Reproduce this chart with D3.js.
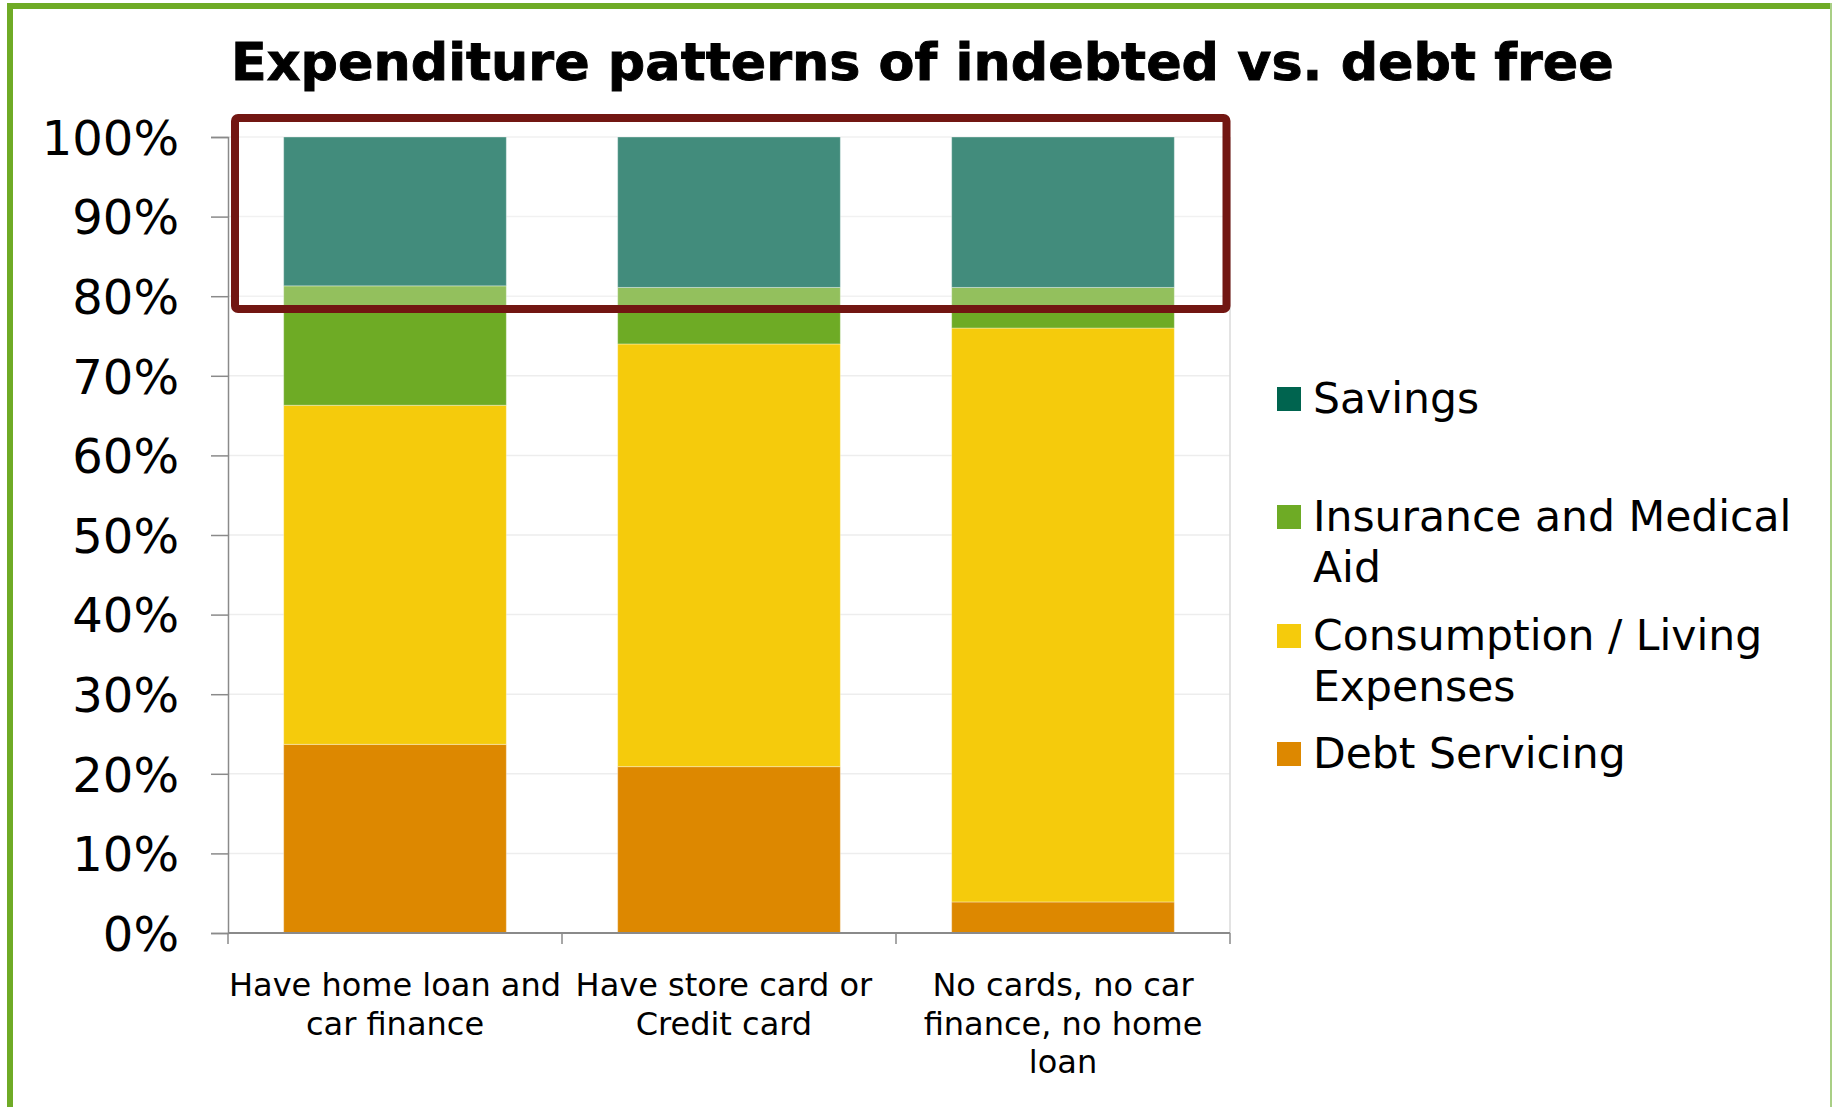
<!DOCTYPE html>
<html>
<head>
<meta charset="utf-8">
<script src="https://cdn.jsdelivr.net/npm/d3@7"></script>
<style>
  html, body { margin: 0; padding: 0; background: #ffffff; }
  svg { display: block; }
  text { font-family: "DejaVu Sans", Verdana, sans-serif; fill: #000; white-space: pre; }
</style>
</head>
<body>
<svg id="chart" width="1832" height="1107"></svg>
<script>
// Household groups (x categories), each label split into its display lines
const categories = ["home", "cards", "none"];
const categoryLines = [
  ["Have home loan and", "car finance"],
  ["Have store card or ", "Credit card "],
  ["No cards, no car", "finance, no home", "loan"]
];

// Share of income per spending type, in percent, per group
const debtServicing = [23.7, 20.9, 3.9];
const consumption   = [42.6, 53.1, 72.1];
const insurance     = [15.0, 7.1, 5.1];
const savings       = [18.7, 18.9, 18.9];

// Series, bottom of the stack first
const seriesKeys   = ["debt", "consumption", "insurance", "savings"];
const seriesNames  = ["Debt Servicing", "Consumption / Living Expenses", "Insurance and Medical Aid", "Savings"];
const seriesColors = ["#dd8800", "#f5cb0c", "#6eab25", "#00644f"];

// Legend entries, top to bottom, with their wrapped lines
const legendOrder = ["savings", "insurance", "consumption", "debt"];
const legendLines = {
  savings: ["Savings"],
  insurance: ["Insurance and Medical", "Aid"],
  consumption: ["Consumption / Living", "Expenses"],
  debt: ["Debt Servicing"]
};

const yTicks = [0, 10, 20, 30, 40, 50, 60, 70, 80, 90, 100];
const titleText = "Expenditure patterns of indebted vs. debt free";

const rows = categories.map((c, i) => ({
  cat: c,
  debt: debtServicing[i],
  consumption: consumption[i],
  insurance: insurance[i],
  savings: savings[i]
}));

const svg = d3.select("#chart");

// Plot frame
const plot = { left: 228, right: 1230, top: 137, bottom: 933 };

const x = d3.scaleBand()
  .domain(categories)
  .range([plot.left, plot.right])
  .paddingInner(1 / 3)
  .paddingOuter(1 / 6);

const y = d3.scaleLinear().domain([0, 100]).range([plot.bottom, plot.top]);
const color = d3.scaleOrdinal().domain(seriesKeys).range(seriesColors);

// Outer green card border
svg.append("rect").attr("x", 7).attr("y", 3).attr("width", 6).attr("height", 1104).attr("fill", "#6fab26");
svg.append("rect").attr("x", 7).attr("y", 3).attr("width", 1825).attr("height", 6).attr("fill", "#6fab26");
svg.append("rect").attr("x", 1830).attr("y", 3).attr("width", 2).attr("height", 1104).attr("fill", "#a9cf86");

// Title, sized to span the chart width
const title = svg.append("text")
  .attr("x", 231).attr("y", 80)
  .attr("font-weight", "bold")
  .attr("font-size", 54)
  .attr("stroke", "#000")
  .attr("stroke-width", 0.9)
  .text(titleText);
const tw = title.node().getComputedTextLength();
title.attr("font-size", 54 * 1383 / tw);

// Horizontal gridlines
svg.append("g").selectAll("line")
  .data(yTicks.filter(t => t > 0))
  .join("line")
  .attr("x1", plot.left).attr("x2", plot.right)
  .attr("y1", d => y(d)).attr("y2", d => y(d))
  .attr("stroke", "#ededed").attr("stroke-width", 1.5);

// Right edge of plot area
svg.append("line")
  .attr("x1", plot.right).attr("x2", plot.right)
  .attr("y1", plot.top).attr("y2", plot.bottom)
  .attr("stroke", "#dadada").attr("stroke-width", 1.5);

// Stacked bars
const stacked = d3.stack().keys(seriesKeys)(rows);
const barsG = svg.append("g");
stacked.forEach(layer => {
  barsG.append("g")
    .attr("fill", color(layer.key))
    .selectAll("rect")
    .data(layer)
    .join("rect")
    .attr("x", d => x(d.data.cat))
    .attr("width", x.bandwidth())
    .attr("y", d => y(d[1]))
    .attr("height", d => y(d[0]) - y(d[1]))
    .attr("stroke", "rgba(255,255,255,0.35)")
    .attr("stroke-width", 1);
});

// Y axis
const yAxis = d3.axisLeft(y)
  .tickValues(yTicks)
  .tickFormat(d => d + "%")
  .tickSize(17)
  .tickPadding(32);
const yg = svg.append("g").attr("transform", `translate(${plot.left},0)`).call(yAxis);
yg.select(".domain").attr("stroke", "#8a8a8a").attr("stroke-width", 1.5);
yg.selectAll(".tick line").attr("stroke", "#8a8a8a").attr("stroke-width", 1.5);
yg.selectAll(".tick text")
  .attr("font-family", "'DejaVu Sans', Verdana, sans-serif")
  .attr("font-size", 48)
  .attr("fill", "#000")
  .attr("dy", "0.36em");

// X axis baseline with ticks at category boundaries
const step = x.step();
const gap = step * x.paddingInner();
const bounds = categories.map(c => x(c) - gap / 2).concat([x(categories[categories.length - 1]) + x.bandwidth() + gap / 2]);
svg.append("line")
  .attr("x1", plot.left).attr("x2", plot.right)
  .attr("y1", plot.bottom).attr("y2", plot.bottom)
  .attr("stroke", "#8a8a8a").attr("stroke-width", 2);
svg.append("g").selectAll("line")
  .data(bounds)
  .join("line")
  .attr("x1", d => d).attr("x2", d => d)
  .attr("y1", plot.bottom).attr("y2", plot.bottom + 11)
  .attr("stroke", "#8a8a8a").attr("stroke-width", 1.5);

// Category labels
const xl = svg.append("g");
categories.forEach((c, i) => {
  const t = xl.append("text")
    .attr("text-anchor", "middle")
    .attr("font-size", 32)
    .attr("x", x(c) + x.bandwidth() / 2)
    .attr("y", 996);
  categoryLines[i].forEach((line, j) => {
    t.append("tspan")
      .attr("x", x(c) + x.bandwidth() / 2)
      .attr("dy", j === 0 ? 0 : 38.5)
      .text(line);
  });
});

// Highlight box around the top of the stacks
const hb = { x1: 235, x2: 1226.5, y1: 118, y2: 309 };
svg.append("rect")
  .attr("x", hb.x1 + 4).attr("y", hb.y1 + 4)
  .attr("width", hb.x2 - hb.x1 - 8).attr("height", hb.y2 - hb.y1 - 8)
  .attr("fill", "#ffffff").attr("fill-opacity", 0.26);
svg.append("rect")
  .attr("x", hb.x1).attr("y", hb.y1)
  .attr("width", hb.x2 - hb.x1).attr("height", hb.y2 - hb.y1)
  .attr("rx", 3)
  .attr("fill", "none")
  .attr("stroke", "#721612")
  .attr("stroke-width", 8);

// Legend
const legendTops = [387, 505, 624, 742];
const lg = svg.append("g");
legendOrder.forEach((key, i) => {
  const top = legendTops[i];
  lg.append("rect")
    .attr("x", 1277).attr("y", top)
    .attr("width", 24).attr("height", 24)
    .attr("fill", color(key));
  const t = lg.append("text")
    .attr("x", 1313).attr("y", top + 26)
    .attr("font-size", 42.5);
  legendLines[key].forEach((line, j) => {
    t.append("tspan").attr("x", 1313).attr("dy", j === 0 ? 0 : 51).text(line);
  });
});
</script>
</body>
</html>
